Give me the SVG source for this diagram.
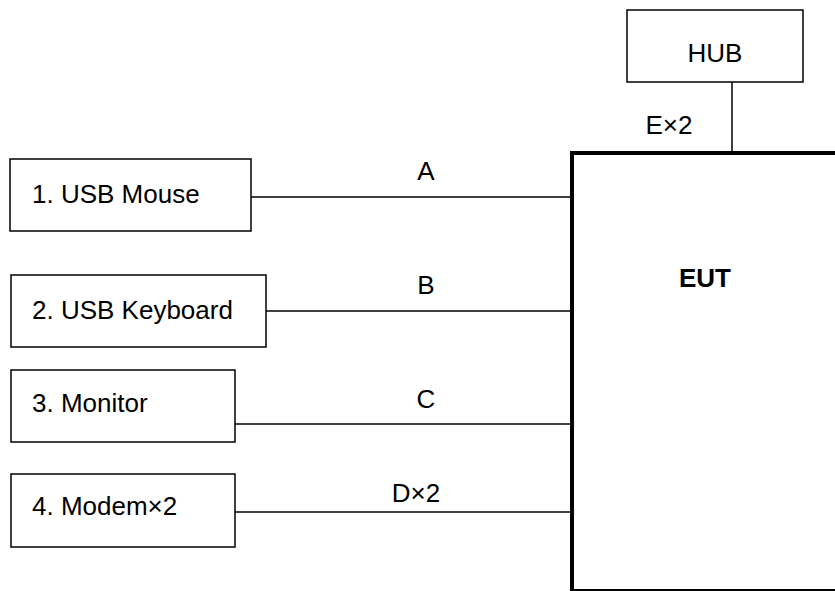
<svg xmlns="http://www.w3.org/2000/svg" width="835" height="591" viewBox="0 0 835 591">
<style>
.box{fill:#fff;stroke:#000;stroke-width:1.5}
.t{font-family:"Liberation Sans",Arial,sans-serif;font-size:26px;fill:#000}
.ln{stroke:#000;stroke-width:1.5;fill:none}
</style>
<rect width="835" height="591" fill="#fff"/>
<g id="connectors">
<line class="ln" x1="251" y1="197" x2="572" y2="197"/>
<line class="ln" x1="266" y1="311" x2="572" y2="311"/>
<line class="ln" x1="235" y1="424" x2="572" y2="424"/>
<line class="ln" x1="235" y1="512" x2="572" y2="512"/>
<line class="ln" x1="732" y1="82" x2="732" y2="153"/>
<text class="t" x="426" y="180" text-anchor="middle">A</text>
<text class="t" x="426" y="294" text-anchor="middle">B</text>
<text class="t" x="426" y="408" text-anchor="middle">C</text>
<text class="t" x="416" y="502" text-anchor="middle">D×2</text>
<text class="t" x="669" y="134" text-anchor="middle">E×2</text>
</g>
<g id="eut">
<rect x="572" y="153" width="300" height="438" fill="#fff" stroke="#000" stroke-width="4"/>
<text class="t" x="705" y="287" text-anchor="middle" font-weight="bold">EUT</text>
</g>
<g id="hub">
<rect class="box" x="627" y="10" width="176" height="72"/>
<text class="t" x="715" y="62" text-anchor="middle">HUB</text>
</g>
<g id="mouse">
<rect class="box" x="10" y="159" width="241" height="72"/>
<text class="t" x="32" y="203">1. USB Mouse</text>
</g>
<g id="keyboard">
<rect class="box" x="11" y="275" width="255" height="72"/>
<text class="t" x="32" y="319">2. USB Keyboard</text>
</g>
<g id="monitor">
<rect class="box" x="11" y="370" width="224" height="72"/>
<text class="t" x="32" y="412">3. Monitor</text>
</g>
<g id="modem">
<rect class="box" x="11" y="474" width="224" height="73"/>
<text class="t" x="32" y="515">4. Modem×2</text>
</g>
</svg>
